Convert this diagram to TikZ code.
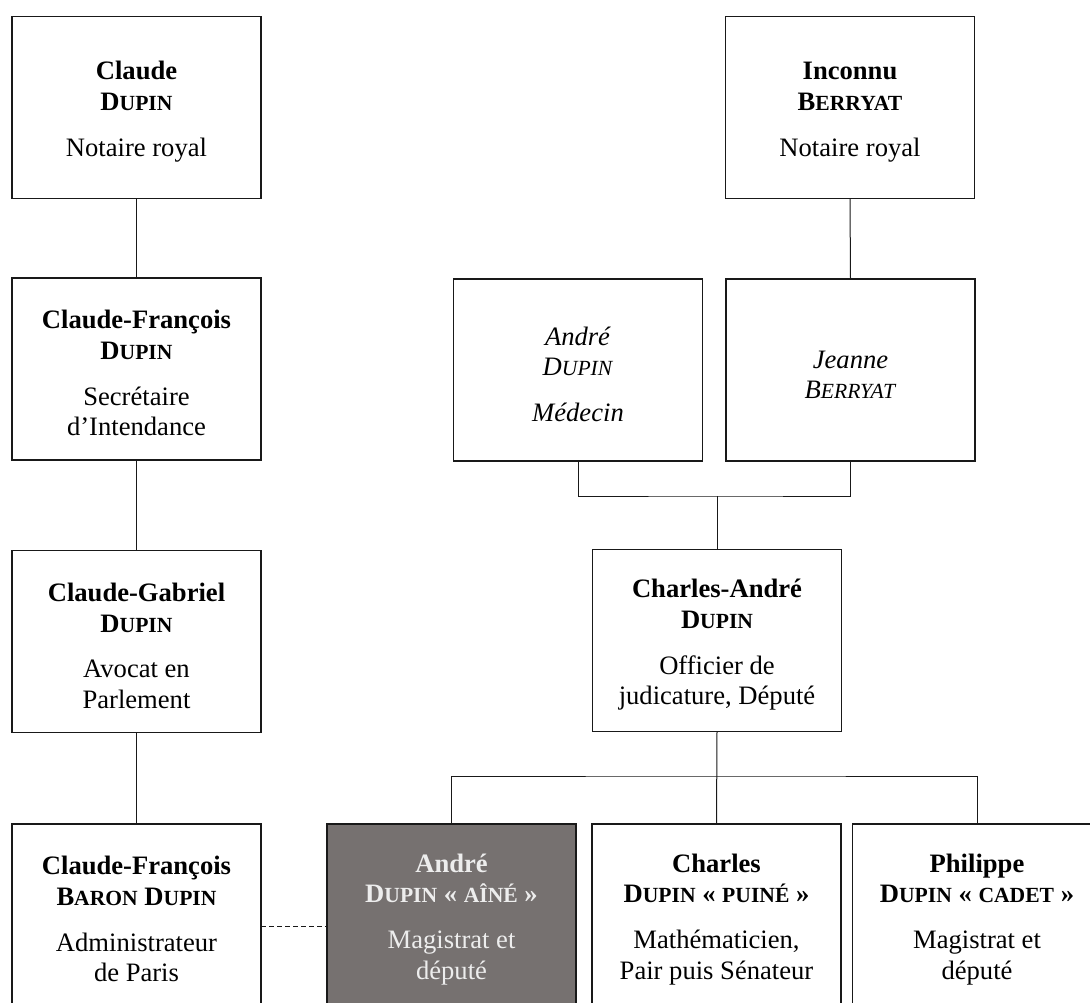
\documentclass[tikz,border=0pt]{standalone}
\usepackage{fontspec}
\setmainfont{Liberation Serif}
\newcommand\smc[1]{{\fontsize{21.6pt}{30.7pt}\selectfont #1}}
\newcommand\topfix{\rule{0pt}{27pt}}
\definecolor{boxgray}{RGB}{118,113,112}
\definecolor{inkline}{RGB}{25,25,25}
\tikzset{
  person/.style={draw=inkline, line width=1.2pt, fill=white, minimum width=249pt,
    minimum height=182pt, inner sep=0pt, outer sep=0pt, align=center,
    font=\fontsize{26.6pt}{30.7pt}\selectfont, text=black},
  featured/.style={person, fill=boxgray, text=white!93!black},
  link/.style={draw=inkline, line width=1pt},
  dashlink/.style={link, dash pattern=on 5pt off 3pt}
}
\begin{document}
\begin{tikzpicture}[x=1pt,y=-1pt]
\useasboundingbox (0,0) rectangle (1090,1003);
\clip (0,0) rectangle (1090,1003);
% left column
\node[person] (c1) at (136.5,107.5) {\topfix\textbf{Claude}\\\textbf{D\smc{UPIN}}\\[15pt]Notaire royal};
\node[person] (c2) at (136.5,369) {\topfix\textbf{Claude-François}\\\textbf{D\smc{UPIN}}\\[15pt]Secrétaire\\d’Intendance};
\node[person] (c3) at (136.5,641.5) {\topfix\textbf{Claude-Gabriel}\\\textbf{D\smc{UPIN}}\\[15pt]Avocat en\\Parlement};
\node[person] (c4) at (136.5,915) {\topfix\textbf{Claude-François}\\\textbf{B\smc{ARON} D\smc{UPIN}}\\[15pt]Administrateur\\de Paris};
% right side
\node[person] (inc) at (850,107.5) {\topfix\textbf{Inconnu}\\\textbf{B\smc{ERRYAT}}\\[15pt]Notaire royal};
\node[person] (andre) at (578,370) {\topfix\textit{André}\\\textit{D\smc{UPIN}}\\[15pt]\textit{Médecin}};
\node[person] (jeanne) at (850.5,370) {\topfix\textit{Jeanne}\\\textit{B\smc{ERRYAT}}};
\node[person] (ca) at (717,640.5) {\topfix\textbf{Charles-André}\\\textbf{D\smc{UPIN}}\\[15pt]Officier de\\judicature, Député};
% bottom row
\node[featured] (aine) at (451.5,915) {\topfix\textbf{André}\\\textbf{D\smc{UPIN} « \smc{AÎNÉ} »}\\[15pt]Magistrat et\\député};
\node[person] (charles) at (716.5,915) {\topfix\textbf{Charles}\\\textbf{D\smc{UPIN} « \smc{PUINÉ} »}\\[15pt]Mathématicien,\\Pair puis Sénateur};
\node[person] (phil) at (977,915) {\topfix\textbf{Philippe}\\\textbf{D\smc{UPIN} « \smc{CADET} »}\\[15pt]Magistrat et\\député};
% connectors
\draw[link] (c1.south) -- (c2.north);
\draw[link] (c2.south) -- (c3.north);
\draw[link] (c3.south) -- (c4.north);
\draw[link] (inc.south) -- (jeanne.north);
\coordinate (jbar) at (717,496);
\draw[link] (andre.south) |- (jbar) -| (jeanne.south);
\draw[link] (jbar) -- (ca.north);
\coordinate (kbar) at (717,776);
\draw[link] (aine.north) |- (kbar) -| (phil.north);
\draw[link] (ca.south) -- (charles.north);
\draw[dashlink] ([yshift=-11pt]c4.east) -- ([yshift=-11pt]aine.west);
\end{tikzpicture}
\end{document}
